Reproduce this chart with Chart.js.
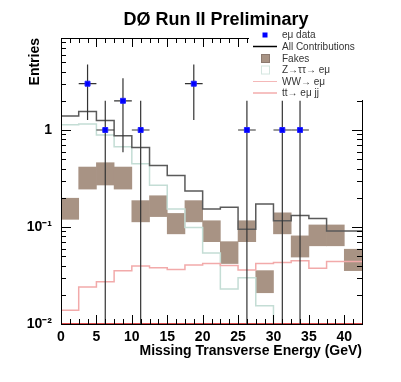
<!DOCTYPE html>
<html>
<head>
<meta charset="utf-8">
<script src="https://cdn.jsdelivr.net/npm/chart.js@4.4.0/dist/chart.umd.min.js"></script>
<style>
	html, body { margin: 0; padding: 0; background: #fff; }
</style>
</head>
<body>
<canvas id="chart" width="401" height="382"></canvas>
<script>
// histogram bins (GeV)
const binEdges = [0, 2.5, 5, 7.5, 10, 12.5, 15, 17.5, 20, 22.5, 25, 27.5, 30, 32.5, 35, 37.5, 40, 42.5]

// backgrounds, one value per bin
const allContrib = [0.87, 1.39, 1.55, 1.25, 0.87, 0.66, 0.43, 0.34, 0.235, 0.153, 0.16, 0.095, 0.173, 0.116, 0.131, 0.122, 0.091]
const fakesLow = [0.12, 0.246, 0.271, 0.246, 0.113, 0.128, 0.085, 0.113, 0.0706, 0.042, 0.0706, 0.021, 0.085, 0.049, 0.064, 0.064, 0.0355]
const fakesHigh = [0.198, 0.415, 0.46, 0.415, 0.187, 0.21, 0.138, 0.187, 0.116, 0.0706, 0.116, 0.0355, 0.14, 0.081, 0.105, 0.105, 0.059]
const zTauTau = [0.71, 1.13, 1.15, 0.89, 0.67, 0.45, 0.27, 0.153, 0.099, 0.054, 0.023, 0.030, 0.0154, 0.001, 0.001, 0.001, 0.001]
const wwEmu = [0.01, 0.0139, 0.024, 0.0273, 0.0355, 0.0397, 0.038, 0.0364, 0.0405, 0.042, 0.040, 0.036, 0.042, 0.043, 0.045, 0.0375, 0.044]
const ttEmu = [0.01, 0.01, 0.01, 0.01, 0.01, 0.01, 0.01, 0.01, 0.01, 0.01, 0.01, 0.01, 0.01, 0.01, 0.01, 0.01, 0.01]

// e-mu data points
const dataX = [3.75, 6.25, 8.75, 11.25, 18.75, 26.25, 31.25, 33.75]
const dataY = [3, 1, 2, 1, 3, 1, 1, 1]
const dataErr = [1.73, 1, 1.41, 1, 1.73, 1, 1, 1]
const dataXErr = 1.25

// axis labels
const xTickValues = [0, 5, 10, 15, 20, 25, 30, 35, 40]
const yDecades = [0.01, 0.1, 1]
const yDecadeLabels = ['10\u207B\u00B2', '10\u207B\u00B9', '1']

const FONT = '"Liberation Sans", Arial, Helvetica, sans-serif'

// step line points from a per-bin array
function stepPoints(values) {
	const pts = values.map((v, i) => ({ x: binEdges[i], y: v }))
	pts.push({ x: binEdges[binEdges.length - 1], y: values[values.length - 1] })
	return pts
}

function histLine(label, values, color, width, order) {
	return {
		type: 'line',
		label: label,
		data: stepPoints(values),
		stepped: 'after',
		borderColor: color,
		borderWidth: width,
		pointRadius: 0,
		fill: false,
		order: order,
	}
}

// inward ticks on all four sides + error bars + legend + title
const rootStyle = {
	id: 'rootStyle',
	beforeDatasetDraw(chart, args) {
		if (args.index !== 5) return
		const { ctx, scales: { x, y }, chartArea } = chart
		ctx.save()
		ctx.beginPath()
		ctx.rect(chartArea.left, chartArea.top, chartArea.width, chartArea.height)
		ctx.clip()
		ctx.strokeStyle = '#333'
		ctx.lineWidth = 1.2
		dataX.forEach((xv, i) => {
			const px = x.getPixelForValue(xv)
			const py = y.getPixelForValue(dataY[i])
			const lo = dataY[i] - dataErr[i]
			const pLo = lo > 0 ? y.getPixelForValue(lo) : chartArea.bottom
			const pHi = y.getPixelForValue(dataY[i] + dataErr[i])
			ctx.beginPath()
			ctx.moveTo(px, pLo)
			ctx.lineTo(px, pHi)
			ctx.moveTo(x.getPixelForValue(xv - dataXErr), py)
			ctx.lineTo(x.getPixelForValue(xv + dataXErr), py)
			ctx.stroke()
		})
		ctx.restore()
	},
	afterDraw(chart) {
		const { ctx, scales: { x, y }, chartArea: a } = chart
		ctx.save()
		ctx.strokeStyle = '#000'
		ctx.lineWidth = 1
		// frame
		ctx.strokeRect(a.left + 0.5, a.top + 0.5, a.width, a.height)
		ctx.beginPath()
		for (let v = 0; v <= 42.5 + 1e-9; v += 1.25) {
			const px = Math.round(x.getPixelForValue(v)) + 0.5
			const len = Math.abs(v % 5) < 1e-9 ? 9 : 5
			ctx.moveTo(px, a.bottom)
			ctx.lineTo(px, a.bottom - len)
			ctx.moveTo(px, a.top)
			ctx.lineTo(px, a.top + len)
		}
		yDecades.forEach(d => {
			for (let k = 1; k <= 9; k++) {
				const v = d * k
				if (v > y.max) break
				const py = Math.round(y.getPixelForValue(v)) + 0.5
				const len = k === 1 ? 10 : 5
				ctx.moveTo(a.left, py)
				ctx.lineTo(a.left + len, py)
				ctx.moveTo(a.right, py)
				ctx.lineTo(a.right - len, py)
			}
		})
		ctx.stroke()

		// legend box (covers the top right corner of the frame)
		ctx.fillStyle = '#fff'
		ctx.fillRect(249, 27, 152, 73)
		const rows = [
			{ text: 'e\u03BC data', y: 35, kind: 'point' },
			{ text: 'All Contributions', y: 46.5, kind: 'line', color: '#000', w: 1.5 },
			{ text: 'Fakes', y: 58.5, kind: 'box', fill: '#a89384', stroke: '#8c7a70' },
			{ text: 'Z\u2192\u03C4\u03C4\u2192 e\u03BC', y: 70, kind: 'box', fill: '#fff', stroke: '#d4e6e0' },
			{ text: 'WW\u2192 e\u03BC', y: 81.5, kind: 'line', color: '#f4b8b8', w: 1 },
			{ text: 'tt\u2192 e\u03BC jj', y: 93, kind: 'line', color: '#f09898', w: 1.2 },
		]
		rows.forEach(r => {
			if (r.kind === 'point') {
				ctx.fillStyle = '#0000ff'
				ctx.fillRect(262.5, r.y - 2.5, 5, 5)
			} else if (r.kind === 'line') {
				ctx.strokeStyle = r.color
				ctx.lineWidth = r.w
				ctx.beginPath()
				ctx.moveTo(253, r.y)
				ctx.lineTo(277, r.y)
				ctx.stroke()
			} else {
				ctx.fillStyle = r.fill
				ctx.strokeStyle = r.stroke
				ctx.lineWidth = 1
				ctx.fillRect(261, r.y - 4.5, 9, 9)
				ctx.strokeRect(261.5, r.y - 4, 8, 8)
			}
			ctx.fillStyle = '#333'
			ctx.font = '10px ' + FONT
			ctx.textAlign = 'left'
			ctx.textBaseline = 'middle'
			ctx.fillText(r.text, 282, r.y + 0.5)
		})

		// title
		ctx.fillStyle = '#000'
		ctx.font = 'bold 18px ' + FONT
		ctx.textAlign = 'center'
		ctx.textBaseline = 'alphabetic'
		ctx.fillText('D\u00D8 Run II Preliminary', 216, 25)
		ctx.restore()
	},
}

new Chart(document.getElementById('chart'), {
	type: 'bar',
	data: {
		datasets: [
			{
				type: 'bar',
				label: 'Fakes',
				data: binEdges.slice(0, -1).map((e, i) => ({
					x: e + 1.25,
					y: [fakesLow[i], fakesHigh[i]],
				})),
				backgroundColor: '#a89384',
				borderWidth: 0,
				barPercentage: 1,
				categoryPercentage: 1,
				grouped: false,
				order: 6,
			},
			histLine('Z\u2192\u03C4\u03C4\u2192 e\u03BC', zTauTau, '#c4ddd5', 1.5, 5),
			histLine('WW\u2192 e\u03BC', wwEmu, '#f2aaaa', 1.5, 4),
			histLine('tt\u2192 e\u03BC jj', ttEmu, '#d84848', 2, 3),
			histLine('All Contributions', allContrib, '#5a5a5a', 1.5, 2),
			{
				type: 'scatter',
				label: 'e\u03BC data',
				data: dataX.map((xv, i) => ({ x: xv, y: dataY[i] })),
				pointStyle: 'rect',
				pointRadius: 3.5,
				backgroundColor: '#0000ff',
				borderColor: '#2020ff',
				borderWidth: 1,
				order: 1,
			},
		],
	},
	options: {
		responsive: false,
		animation: false,
		layout: { padding: { top: 38, right: 39, left: 0, bottom: 0 } },
		plugins: {
			legend: { display: false },
			tooltip: { enabled: false },
			title: { display: false },
		},
		scales: {
			x: {
				type: 'linear',
				min: 0,
				max: 42.5,
				offset: false,
				grid: { display: false, drawTicks: false },
				border: { display: false },
				afterFit: s => { s.height = 58 },
				afterBuildTicks: s => {
					s.ticks = xTickValues.map(v => ({ value: v }))
				},
				ticks: {
					padding: 5,
					autoSkip: false,
					maxRotation: 0,
					color: '#000',
					font: { family: FONT, size: 14, weight: 'bold' },
					callback: v => String(v),
				},
				title: {
					display: true,
					text: 'Missing Transverse Energy (GeV)',
					align: 'end',
					color: '#000',
					font: { family: FONT, size: 14, weight: 'bold' },
					padding: { bottom: 22 },
				},
			},
			y: {
				type: 'logarithmic',
				min: 0.01,
				max: 8.88,
				grid: { display: false, drawTicks: false },
				border: { display: false },
				afterFit: s => { s.width = 61 },
				afterBuildTicks: s => {
					s.ticks = yDecades.map(v => ({ value: v }))
				},
				ticks: {
					padding: 9,
					autoSkip: false,
					color: '#000',
					font: { family: FONT, size: 14, weight: 'bold' },
					callback: v => {
						const i = yDecades.findIndex(d => Math.abs(d - v) < d * 1e-6)
						return i >= 0 ? yDecadeLabels[i] : ''
					},
				},
				title: {
					display: true,
					text: 'Entries',
					align: 'end',
					color: '#000',
					font: { family: FONT, size: 14, weight: 'bold' },
					padding: { top: 27 },
				},
			},
		},
	},
	plugins: [rootStyle],
})
</script>
</body>
</html>
